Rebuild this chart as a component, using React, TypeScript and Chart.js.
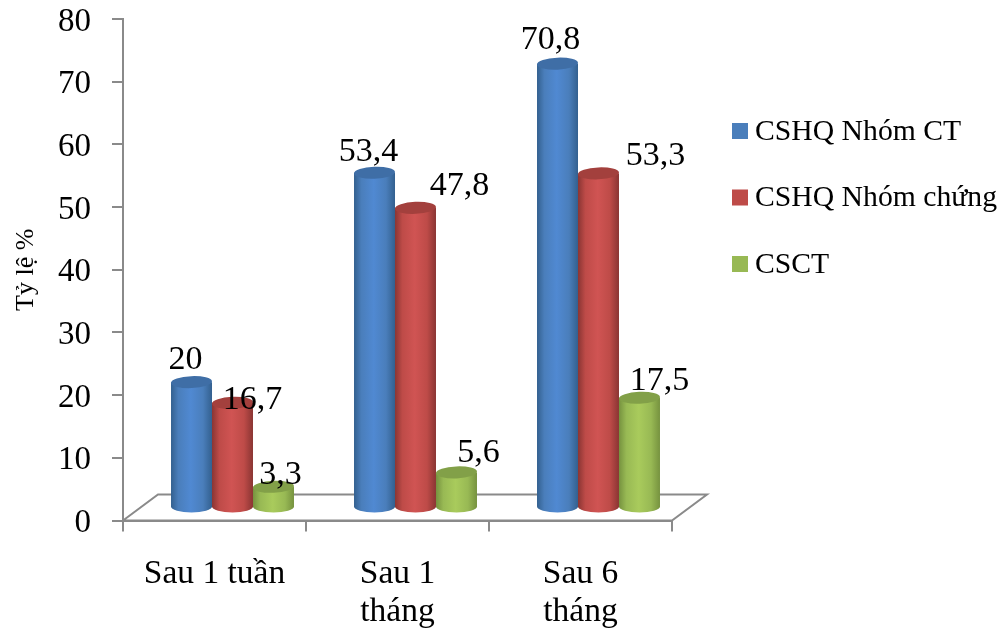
import React, { useEffect, useRef } from "react";
import { Chart, registerables } from "chart.js";

Chart.register(...registerables);

const categories = [["Sau 1 tuần"], ["Sau 1", "tháng"], ["Sau 6", "tháng"]];
const seriesNames = ["CSHQ Nhóm CT", "CSHQ Nhóm chứng", "CSCT"];
const cshqTreatment = [20, 53.4, 70.8];
const cshqControl = [16.7, 47.8, 53.3];
const csct = [3.3, 5.6, 17.5];
const yAxisTitle = "Tỷ lệ %";

const SERIF = "'Liberation Serif', serif";
const GRID = "#8a8a8a";

// The floor of the pseudo-3D plot recedes up and to the right.
const DEPTH_X = 35;
const DEPTH_Y = 26;
// Columns stand in the middle of that floor.
const SHIFT_X = 18;
const SHIFT_Y = 13;
const RY = 6;

const palettes = [
  { solid: "#4a7ebb", edge: "#33608f", mid: "#5089d2", top: "#3f6ea6" },
  { solid: "#be4b48", edge: "#8a3533", mid: "#d05453", top: "#a3403d" },
  { solid: "#98b954", edge: "#76923f", mid: "#a9cb5c", top: "#82a048" },
];

// Hand placement of the value labels relative to each column top, so they clear their neighbours.
const labelNudges = [
  [[-6, -22], [20, -3], [7, -12]],
  [[-6, -21], [44, -22], [22, -19]],
  [[-7, -24], [57, -17], [20, -17]],
];

const cylinderPlugin = {
  id: "cylinders",
  beforeDraw(chart: any) {
    const { ctx, chartArea: a } = chart;
    // Plot floor
    ctx.save();
    ctx.fillStyle = "#ffffff";
    ctx.strokeStyle = GRID;
    ctx.lineWidth = 2;
    ctx.beginPath();
    ctx.moveTo(a.left, a.bottom);
    ctx.lineTo(a.left + DEPTH_X, a.bottom - DEPTH_Y);
    ctx.lineTo(a.right + DEPTH_X, a.bottom - DEPTH_Y);
    ctx.lineTo(a.right, a.bottom);
    ctx.closePath();
    ctx.fill();
    ctx.stroke();
    ctx.restore();
  },
  beforeDatasetsDraw(chart: any) {
    const { ctx } = chart;
    chart.data.datasets.forEach((_: any, d: number) => {
      const p = palettes[d];
      chart.getDatasetMeta(d).data.forEach((bar: any) => {
        const left = bar.x - bar.width / 2 + SHIFT_X;
        const right = left + bar.width;
        const cx = (left + right) / 2;
        const rx = bar.width / 2;
        const top = bar.y - SHIFT_Y;
        const base = bar.base - SHIFT_Y;
        const g = ctx.createLinearGradient(left, 0, right, 0);
        g.addColorStop(0, p.edge);
        g.addColorStop(0.18, p.solid);
        g.addColorStop(0.48, p.mid);
        g.addColorStop(0.78, p.solid);
        g.addColorStop(1, p.edge);
        ctx.save();
        ctx.fillStyle = g;
        ctx.beginPath();
        ctx.moveTo(left, top);
        ctx.lineTo(left, base);
        ctx.ellipse(cx, base, rx, RY, 0, Math.PI, 0, true);
        ctx.lineTo(right, top);
        ctx.closePath();
        ctx.fill();
        ctx.fillStyle = p.top;
        ctx.beginPath();
        ctx.ellipse(cx, top, rx, RY, -0.04, 0, Math.PI * 2);
        ctx.fill();
        ctx.restore();
      });
    });
    // Value labels
    ctx.save();
    ctx.fillStyle = "#000000";
    ctx.font = `34px ${SERIF}`;
    ctx.textAlign = "center";
    ctx.textBaseline = "middle";
    chart.data.datasets.forEach((ds: any, d: number) => {
      chart.getDatasetMeta(d).data.forEach((bar: any, i: number) => {
        const [nx, ny] = labelNudges[i][d];
        const text = String(ds.data[i]).replace(".", ",");
        ctx.fillText(text, bar.x + SHIFT_X + nx, bar.y - SHIFT_Y + ny);
      });
    });
    ctx.restore();
    return false;
  },
  afterDraw(chart: any) {
    const { ctx } = chart;
    ctx.save();
    // Legend
    ctx.textAlign = "left";
    ctx.textBaseline = "middle";
    ctx.font = `29.7px ${SERIF}`;
    chart.data.datasets.forEach((ds: any, d: number) => {
      const y = 131 + d * 66.5;
      ctx.fillStyle = palettes[d].solid;
      ctx.fillRect(732, y - 8, 16, 16);
      ctx.fillStyle = "#000000";
      ctx.fillText(ds.label, 755, y + 1);
    });
    ctx.restore();
  },
};

export default function App() {
  const ref = useRef<HTMLCanvasElement | null>(null);
  useEffect(() => {
    const series = [cshqTreatment, cshqControl, csct];
    const chart = new Chart(ref.current as HTMLCanvasElement, {
      type: "bar",
      data: {
        labels: categories,
        datasets: series.map((data, i) => ({
          label: seriesNames[i],
          data,
          backgroundColor: palettes[i].solid,
          barPercentage: 1,
          categoryPercentage: 0.672,
        })),
      },
      plugins: [cylinderPlugin],
      options: {
        responsive: false,
        animation: false,
        layout: { padding: { left: 0, top: 19, right: 331, bottom: 0 } },
        plugins: { legend: { display: false }, tooltip: { enabled: false } },
        scales: {
          x: {
            grid: {
              drawOnChartArea: false,
              drawTicks: true,
              tickLength: 11,
              color: GRID,
              lineWidth: 2,
            },
            border: { color: GRID, width: 2 },
            ticks: {
              color: "#000000",
              font: { family: SERIF, size: 33.5, lineHeight: 1.15 },
              padding: 23,
              maxRotation: 0,
              autoSkip: false,
            },
            afterFit(scale: any) {
              scale.height = 110.5;
              scale.paddingLeft = 0;
              scale.paddingRight = 0;
            },
          },
          y: {
            min: 0,
            max: 80,
            grid: {
              drawOnChartArea: false,
              tickLength: 11,
              color: GRID,
              lineWidth: 2,
            },
            border: { color: GRID, width: 2 },
            title: {
              display: true,
              text: yAxisTitle,
              color: "#000000",
              font: { family: SERIF, size: 26 },
              padding: { top: 11, bottom: 0 },
            },
            ticks: {
              stepSize: 10,
              color: "#000000",
              font: { family: SERIF, size: 33 },
              padding: 21,
              labelOffset: 3,
            },
            afterFit(scale: any) {
              scale.width = 123;
              scale.paddingTop = 0;
              scale.paddingBottom = 0;
            },
          },
        },
      },
    });
    return () => chart.destroy();
  }, []);
  return (
    <div style={{ position: "absolute", left: 0, top: 0, width: 1003, height: 631, background: "#ffffff" }}>
      <canvas ref={ref} width={1003} height={631} style={{ display: "block" }} />
    </div>
  );
}
